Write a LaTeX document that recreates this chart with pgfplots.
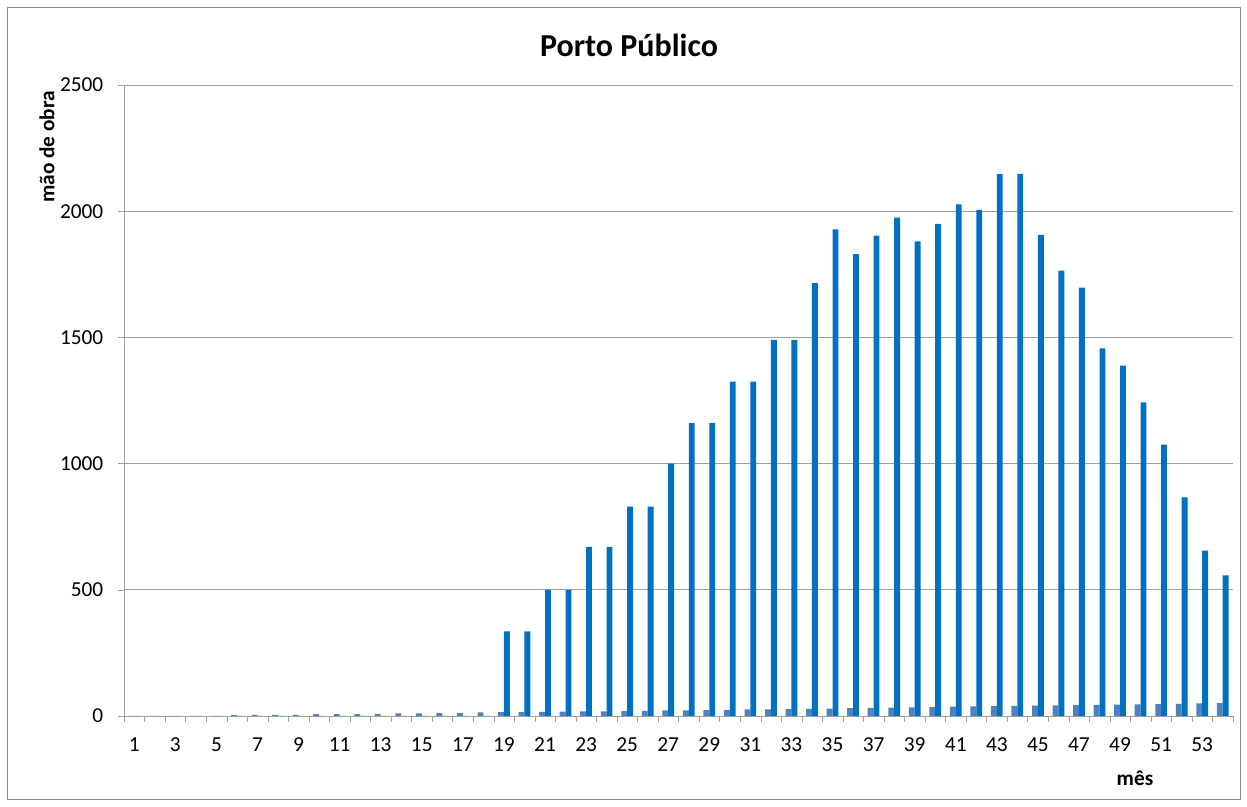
\documentclass[border=0pt]{standalone}
\usepackage{fontspec}
\setmainfont{Carlito}
\usepackage{pgfplots}
\usepackage{pgfplotstable}
\pgfplotsset{compat=1.18}

\definecolor{mainblue}{RGB}{0,112,192}
\definecolor{smallblue}{RGB}{79,129,189}
\definecolor{gridgray}{RGB}{160,160,160}
\definecolor{framegray}{RGB}{134,134,134}

% mes, small series, main series (mao de obra)
\pgfplotstableread{
mes peq mao
1 0 0
2 0 0
3 0 0
4 0 0
5 0 0
6 3 0
7 4 0
8 4 0
9 4 0
10 7 0
11 7 0
12 7 0
13 8 0
14 10 0
15 10 0
16 11 0
17 11 0
18 14 0
19 15 335
20 15 335
21 16 500
22 17 500
23 18 670
24 18 670
25 19 830
26 20 830
27 22 1000
28 22 1160
29 23 1160
30 24 1325
31 26 1325
32 26 1490
33 27 1490
34 28 1715
35 29 1928
36 31 1830
37 32 1903
38 33 1975
39 34 1880
40 36 1950
41 37 2027
42 38 2005
43 39 2148
44 40 2148
45 41 1906
46 42 1765
47 43 1697
48 44 1457
49 45 1388
50 46 1243
51 47 1075
52 48 866
53 50 655
54 51 557
}\dados

\begin{document}
\begin{tikzpicture}
\begin{axis}[
  scale only axis,
  width=831.75pt, height=473.25pt,
  at={(0,0)}, anchor=south west,
  ybar=0pt, bar width=4.4pt,
  xmin=0.5, xmax=54.5,
  ymin=0, ymax=2500,
  xtick={1,3,...,53},
  minor xtick={0.5,1.5,...,54.5},
  ytick={0,500,...,2500},
  axis lines*=left,
  axis line style={draw=gridgray},
  tick align=outside,
  major tick length=4.5pt,
  minor tick length=4.5pt,
  major x tick style={draw=none},
  minor x tick style={draw=gridgray},
  major y tick style={draw=gridgray},
  ymajorgrids,
  grid style={draw=gridgray, line width=0.6pt},
  ticklabel style={font=\fontsize{16}{19}\selectfont},
  xticklabel style={yshift=-8pt},
  yticklabel style={xshift=-7.5pt},
  /pgf/number format/assume math mode=true,
  /pgf/number format/1000 sep={},
  clip=false,
]
\addplot[fill=smallblue, draw=none] table[x=mes, y=peq] {\dados};
\addplot[fill=mainblue, draw=none] table[x=mes, y=mao] {\dados};
\end{axis}
\node[font=\fontsize{24}{28}\selectfont\bfseries] at (378.75pt,503.25pt) {Porto Público};
\node[font=\fontsize{16}{19}\selectfont\bfseries, rotate=90] at (-57.75pt,426.75pt) {mão de obra};
\node[font=\fontsize{16}{19}\selectfont\bfseries] at (758.25pt,-46.5pt) {mês};
\draw[framegray, line width=0.75pt] (-87pt,-63pt) rectangle (837pt,531pt);
\path (-93pt,-68.25pt) rectangle (842.25pt,537pt);
\end{tikzpicture}
\end{document}
